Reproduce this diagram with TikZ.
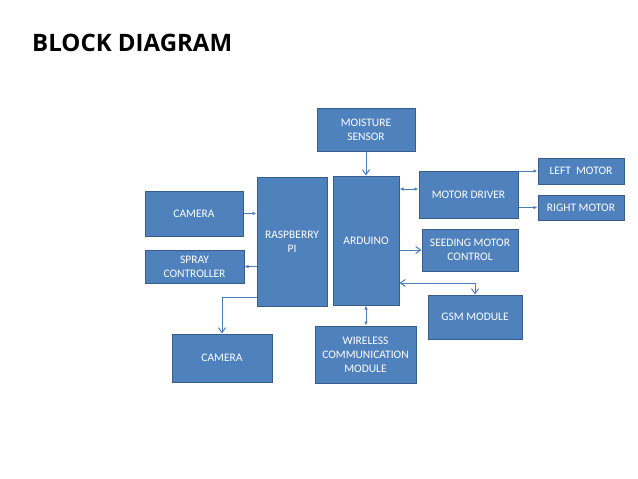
\documentclass[tikz,border=0pt]{standalone}
\usepackage{fontspec}
\setmainfont{Carlito}
\newfontfamily\titlefont{Open Sans}
\usetikzlibrary{arrows.meta}
\definecolor{boxfill}{HTML}{4F81BD}
\definecolor{boxline}{HTML}{385D8A}
\definecolor{conn}{HTML}{4A7EBB}
\tikzset{
  blk/.style={draw=boxline, line width=1pt, fill=boxfill, text=white, align=center,
    font=\fontsize{11.5}{14}\selectfont, inner sep=1pt},
  sm/.style={draw=conn, line width=0.8pt, -{Latex[length=4pt,width=3.5pt]}},
  smb/.style={draw=conn, line width=0.8pt, {Latex[length=4pt,width=3.5pt]}-{Latex[length=4pt,width=3.5pt]}},
  op/.style={draw=conn, line width=0.8pt, -{Straight Barb[length=5pt,width=7pt,line width=1pt]}},
  opb/.style={draw=conn, line width=0.8pt, {Straight Barb[length=5pt,width=7pt,line width=1pt]}-{Straight Barb[length=5pt,width=7pt,line width=1pt]}},
}
\begin{document}
\begin{tikzpicture}[x=1pt,y=-1pt]
\fill[white] (0,0) rectangle (638,479);
\useasboundingbox (0,0) rectangle (638,479);
\node[anchor=base west, inner sep=0pt, font=\titlefont\bfseries\fontsize{24}{28}\selectfont] (title) at (32,51) {BLOCK DIAGRAM};

\node[blk, minimum width=98pt, minimum height=43pt] (moist) at (366,129.5) {MOISTURE\\SENSOR};
\node[blk, minimum width=70pt, minimum height=129pt] (rpi) at (292,241.5) {RASPBERRY\\PI};
\node[blk, minimum width=66pt, minimum height=129pt] (ard) at (366,240.5) {ARDUINO};
\node[blk, minimum width=98pt, minimum height=45pt] (cam1) at (194,213.5) {CAMERA};
\node[blk, minimum width=99pt, minimum height=33pt] (spray) at (194.5,266.5) {SPRAY\\CONTROLLER};
\node[blk, minimum width=100pt, minimum height=48pt] (cam2) at (222,358) {CAMERA};
\node[blk, minimum width=101pt, minimum height=57pt] (wire) at (365.5,354.5) {WIRELESS\\COMMUNICATION\\MODULE};
\node[blk, minimum width=99pt, minimum height=47pt] (md) at (468.5,194.5) {MOTOR DRIVER};
\node[blk, minimum width=86pt, minimum height=26pt] (lm) at (581,171) {LEFT\ \ MOTOR};
\node[blk, minimum width=86pt, minimum height=25pt] (rm) at (581,207.5) {RIGHT MOTOR};
\node[blk, minimum width=96pt, minimum height=42pt] (seed) at (470,250) {SEEDING MOTOR\\CONTROL};
\node[blk, minimum width=94pt, minimum height=44pt] (gsm) at (475,317) {GSM MODULE};

\draw[op] (moist.south) -- (ard.north);
\draw[sm] (cam1.east) -- (rpi.west |- cam1.east);
\draw[sm] (rpi.west |- spray.east) -- (spray.east);
\coordinate (rpiout) at ([yshift=9pt]rpi.south west);
\draw[op] (rpiout) -| (cam2.north);
\coordinate (mdin) at ([yshift=5.5pt]md.west);
\draw[smb] (ard.east |- mdin) -- (mdin);
\draw[sm] (md.east |- lm.west) -- (lm.west);
\draw[sm] (md.east |- rm.west) -- (rm.west);
\draw[op] (ard.east |- seed.west) -- (seed.west);
\coordinate (ardgsm) at ([yshift=-42.5pt]ard.east);
\draw[opb] (ardgsm) -| (gsm.north);
\draw[smb] (ard.south) -- (ard.south |- wire.north);
\end{tikzpicture}
\end{document}
